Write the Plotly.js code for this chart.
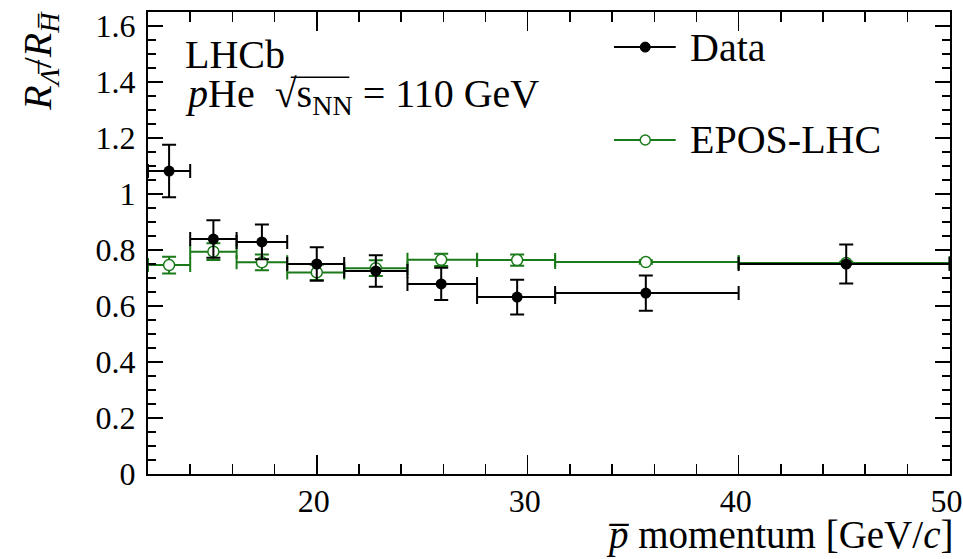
<!DOCTYPE html>
<html>
<head>
<meta charset="utf-8">
<script src="https://cdn.plot.ly/plotly-3.0.1.min.js"></script>
<style>html,body{margin:0;padding:0;background:#fff;}#chart{width:963px;height:559px;}</style>
</head>
<body>
<div id="chart"></div>
<script>
// p-bar momentum bin edges [GeV/c]
const pBins = [12, 14, 16.2, 18.6, 21.3, 24.3, 27.6, 31.3, 40, 50];
// Data
const dataX = [13.0, 15.1, 17.4, 20.0, 22.8, 25.9, 29.5, 35.6, 45.1];
const dataY = [1.082, 0.839, 0.829, 0.750, 0.725, 0.679, 0.632, 0.646, 0.750];
const dataErr = [0.094, 0.067, 0.062, 0.060, 0.056, 0.058, 0.062, 0.063, 0.070];
// EPOS-LHC
const eposX = [13.0, 15.1, 17.4, 20.0, 22.8, 25.9, 29.5, 35.6, 45.1];
const eposY = [0.746, 0.794, 0.756, 0.720, 0.735, 0.765, 0.764, 0.757, 0.754];
const eposErr = [0.030, 0.030, 0.028, 0.027, 0.028, 0.022, 0.020, 0.006, 0.004];

const GREEN = '#1a7a1a';
const FONT = 'Liberation Serif';

function xPlus(xs) { return xs.map((x, i) => pBins[i + 1] - x); }
function xMinus(xs) { return xs.map((x, i) => x - pBins[i]); }

const traces = [
  {
    type: 'scatter', mode: 'markers', name: 'EPOS-LHC',
    x: eposX, y: eposY,
    marker: {symbol: 'circle', size: 11, color: '#ffffff', line: {color: GREEN, width: 1.5}},
    error_x: {type: 'data', symmetric: false, array: xPlus(eposX), arrayminus: xMinus(eposX), color: GREEN, thickness: 2, width: 7},
    error_y: {type: 'data', array: eposErr, color: GREEN, thickness: 2, width: 7},
    showlegend: false
  },
  {
    type: 'scatter', mode: 'markers', name: 'Data',
    x: dataX, y: dataY,
    marker: {symbol: 'circle', size: 11, color: '#000000'},
    error_x: {type: 'data', symmetric: false, array: xPlus(dataX), arrayminus: xMinus(dataX), color: '#000', thickness: 2, width: 7},
    error_y: {type: 'data', array: dataErr, color: '#000', thickness: 2, width: 7},
    showlegend: false
  }
];

const axisCommon = {
  showline: true, linewidth: 2, linecolor: '#000', mirror: 'allticks',
  ticks: 'inside', tickcolor: '#000', tickwidth: 1.5,
  showgrid: false, zeroline: false,
  tickfont: {family: FONT, size: 32, color: '#000'}
};

const layout = {
  width: 963, height: 559,
  font: {family: FONT, color: '#000'},
  margin: {l: 148, r: 13, t: 12, b: 85},
  paper_bgcolor: '#fff', plot_bgcolor: '#fff',
  showlegend: false,
  xaxis: Object.assign({}, axisCommon, {
    range: [12, 50.02], tick0: 0, dtick: 10, ticklen: 19,
    ticklabeloverflow: 'allow', ticklabelshift: -3, ticklabelstandoff: -2,
    minor: {dtick: 2, tick0: 0, ticklen: 10, ticks: 'inside', tickcolor: '#000', tickwidth: 1.5}
  }),
  yaxis: Object.assign({}, axisCommon, {
    range: [0, 1.65], tick0: 0, dtick: 0.2, ticklen: 15, ticklabelstandoff: 4,
    minor: {dtick: 0.05, tick0: 0, ticklen: 8, ticks: 'inside', tickcolor: '#000', tickwidth: 1.5}
  }),
  annotations: [
    {xref: 'paper', yref: 'paper', x: 0.0436, y: 0.909, xanchor: 'left', yanchor: 'middle', showarrow: false,
     text: 'LHCb', font: {family: FONT, size: 40, color: '#000'}},
    {xref: 'paper', yref: 'paper', x: 0.0436, y: 0.818, xanchor: 'left', yanchor: 'middle', showarrow: false,
     text: '<i>p</i>He\u00A0\u00A0√s<sub>NN</sub> = 110 GeV', font: {family: FONT, size: 40, color: '#000'}},
    {xref: 'paper', yref: 'paper', x: 0.673, y: 0.924, xanchor: 'left', yanchor: 'middle', showarrow: false,
     text: 'Data', font: {family: FONT, size: 40, color: '#000'}},
    {xref: 'paper', yref: 'paper', x: 0.673, y: 0.723, xanchor: 'left', yanchor: 'middle', showarrow: false,
     text: 'EPOS-LHC', font: {family: FONT, size: 40, color: '#000'}},
    {xref: 'paper', yref: 'paper', x: -0.135, y: 0.894, xanchor: 'center', yanchor: 'middle', showarrow: false, textangle: -90,
     text: '<i>R</i><sub><i>Λ̅</i></sub>/<i>R</i><sub><i>H̅</i></sub>', font: {family: FONT, size: 40, color: '#000'}},
    {xref: 'paper', yref: 'paper', x: 1.006, y: -0.132, xanchor: 'right', yanchor: 'middle', showarrow: false,
     text: '<i>p̅</i> momentum [GeV/<i>c</i>]', font: {family: FONT, size: 39, color: '#000'}}
  ],
  shapes: [
    // radical overline over s_NN
    {type: 'line', xref: 'paper', yref: 'paper', x0: 0.178, x1: 0.251, y0: 0.859, y1: 0.859, line: {color: '#000', width: 1.5}},
    // legend lines
    {type: 'line', xref: 'paper', yref: 'paper', x0: 0.581, x1: 0.658, y0: 0.924, y1: 0.924, line: {color: '#000', width: 2}},
    {type: 'line', xref: 'paper', yref: 'paper', x0: 0.581, x1: 0.658, y0: 0.723, y1: 0.723, line: {color: GREEN, width: 2}},
    // legend markers
    {type: 'circle', xref: 'paper', yref: 'paper', xsizemode: 'pixel', ysizemode: 'pixel', xanchor: 0.62, yanchor: 0.924,
     x0: -5, x1: 5, y0: -5, y1: 5, fillcolor: '#000', line: {color: '#000', width: 1}},
    {type: 'circle', xref: 'paper', yref: 'paper', xsizemode: 'pixel', ysizemode: 'pixel', xanchor: 0.62, yanchor: 0.723,
     x0: -5, x1: 5, y0: -5, y1: 5, fillcolor: '#fff', line: {color: GREEN, width: 1.5}}
  ]
};

Plotly.newPlot('chart', traces, layout, {displayModeBar: false, staticPlot: true});
</script>
</body>
</html>
